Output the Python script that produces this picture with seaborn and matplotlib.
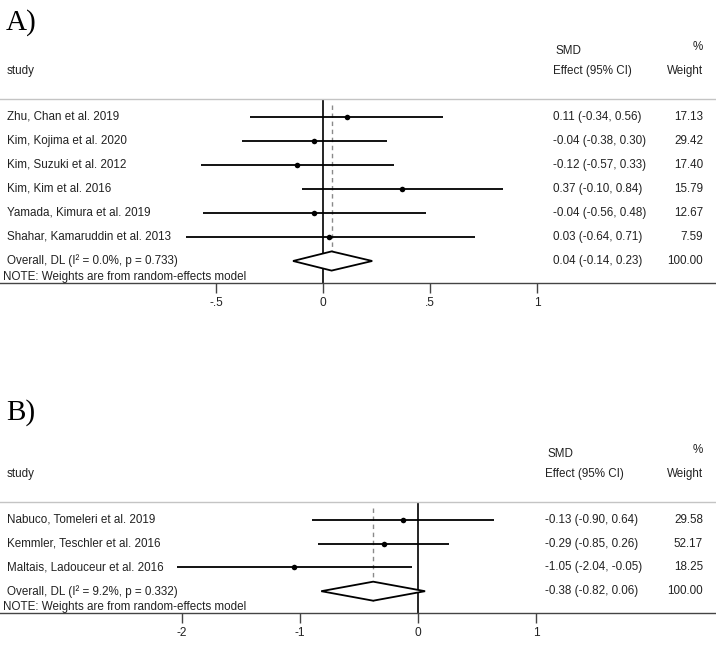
import numpy as np
import pandas as pd
import matplotlib
matplotlib.use("Agg")
import matplotlib.pyplot as plt
import matplotlib.transforms as mtransforms
import seaborn as sns

# ---------------- data ----------------
a_studies = ["Zhu, Chan et al. 2019", "Kim, Kojima et al. 2020", "Kim, Suzuki et al. 2012",
             "Kim, Kim et al. 2016", "Yamada, Kimura et al. 2019", "Shahar, Kamaruddin et al. 2013"]
a_smd = [0.11, -0.04, -0.12, 0.37, -0.04, 0.03]
a_lo = [-0.34, -0.38, -0.57, -0.10, -0.56, -0.64]
a_hi = [0.56, 0.30, 0.33, 0.84, 0.48, 0.71]
a_weight = [17.13, 29.42, 17.40, 15.79, 12.67, 7.59]
a_overall = [0.04, -0.14, 0.23]
a_overall_label = "Overall, DL (I² = 0.0%, p = 0.733)"
a_ticks = [-0.5, 0, 0.5, 1]
a_ticklabels = ["-.5", "0", ".5", "1"]

b_studies = ["Nabuco, Tomeleri et al. 2019", "Kemmler, Teschler et al. 2016", "Maltais, Ladouceur et al. 2016"]
b_smd = [-0.13, -0.29, -1.05]
b_lo = [-0.90, -0.85, -2.04]
b_hi = [0.64, 0.26, -0.05]
b_weight = [29.58, 52.17, 18.25]
b_overall = [-0.38, -0.82, 0.06]
b_overall_label = "Overall, DL (I² = 9.2%, p = 0.332)"
b_ticks = [-2, -1, 0, 1]
b_ticklabels = ["-2", "-1", "0", "1"]

note = "NOTE: Weights are from random-effects model"

# ---------------- style ----------------
sns.set_theme(style="white")
plt.rcParams['font.family'] = ['Liberation Sans', 'DejaVu Sans']

W, H = 716, 649
fig = plt.figure(figsize=(W / 100, H / 100), dpi=100)
TXT = "#222222"
FS = 8.4


def px(x):
    return x / W


def panel(rect, xlim, studies, smd, lo, hi, weight, overall, overall_label,
          ticks, ticklabels, effect_x, letter, letter_y):
    ax = fig.add_axes(rect)
    n = len(studies)
    rows = np.arange(n)
    df = pd.DataFrame({"study": studies, "smd": smd, "lo": lo, "hi": hi,
                       "weight": weight, "row": rows})
    ax.set_xlim(*xlim)
    ax.set_ylim(n + 0.917, -0.75)

    # reference lines
    ax.axvline(0, color="black", lw=1.2, zorder=1)
    ax.vlines(overall[0], -0.5, n + 0.46, colors="#8a8a8a", lw=1,
              linestyles=(0, (3.2, 2.6)), zorder=1)

    # CIs and point estimates
    ax.hlines(df["row"], df["lo"], df["hi"], colors="black", lw=1.3, zorder=2)
    sns.scatterplot(data=df, x="smd", y="row", ax=ax, color="black", s=16,
                    linewidth=0, zorder=3, legend=False)

    # overall diamond
    est, l, h = overall
    dy = 0.4
    ax.fill([l, est, h, est, l], [n, n - dy, n, n + dy, n], facecolor="white",
            edgecolor="black", lw=1.3, zorder=4)

    # axes styling
    for s in ["left", "right"]:
        ax.spines[s].set_visible(False)
    ax.spines["top"].set_color("#c4c4c4")
    ax.spines["top"].set_linewidth(1.0)
    ax.spines["bottom"].set_color("#444444")
    ax.spines["bottom"].set_linewidth(1.0)
    ax.set_yticks([])
    ax.set_xticks(ticks)
    ax.set_xticklabels(ticklabels)
    ax.tick_params(axis="x", direction="out", length=7, width=1, color="#444444",
                   labelsize=8.6, labelcolor=TXT, pad=3, bottom=True)
    ax.set_xlabel("")
    ax.set_ylabel("")

    tr = mtransforms.blended_transform_factory(fig.transFigure, ax.transData)
    kw = dict(transform=tr, fontsize=FS, color=TXT, va="center", clip_on=False)
    for i, r in df.iterrows():
        ax.text(px(7), r["row"], r["study"], ha="left", **kw)
        ax.text(px(effect_x), r["row"], f"{r['smd']:.2f} ({r['lo']:.2f}, {r['hi']:.2f})",
                ha="left", **kw)
        ax.text(px(703), r["row"], f"{r['weight']:.2f}", ha="right", **kw)
    ax.text(px(7), n, overall_label, ha="left", **kw)
    ax.text(px(effect_x), n, f"{est:.2f} ({l:.2f}, {h:.2f})", ha="left", **kw)
    ax.text(px(703), n, "100.00", ha="right", **kw)
    ax.text(px(3), n + 0.917, note, ha="left", transform=tr, fontsize=FS, color=TXT,
            va="bottom", clip_on=False)

    # headers
    ax.text(px(7), -1.92, "study", ha="left", **kw)
    ax.text(px(effect_x + 2), -2.75, "SMD", ha="left", **kw)
    ax.text(px(effect_x), -1.92, "Effect (95% CI)", ha="left", **kw)
    ax.text(px(703), -2.92, "%", ha="right", **kw)
    ax.text(px(703), -1.92, "Weight", ha="right", **kw)

    fig.text(px(6), 1 - letter_y / H, letter, fontsize=21, family="Liberation Serif",
             color="black", ha="left", va="baseline")
    return ax


panel([0, 1 - 283 / H, 1, (283 - 99) / H], (-323 / 214, (W - 323) / 214),
      a_studies, a_smd, a_lo, a_hi, a_weight, a_overall, a_overall_label,
      a_ticks, a_ticklabels, 553, "A)", 30)

panel([0, 1 - 613 / H, 1, (613 - 502) / H], (-418 / 118, (W - 418) / 118),
      b_studies, b_smd, b_lo, b_hi, b_weight, b_overall, b_overall_label,
      b_ticks, b_ticklabels, 545, "B)", 420)

fig.savefig("out.png", dpi=100, facecolor="white")
